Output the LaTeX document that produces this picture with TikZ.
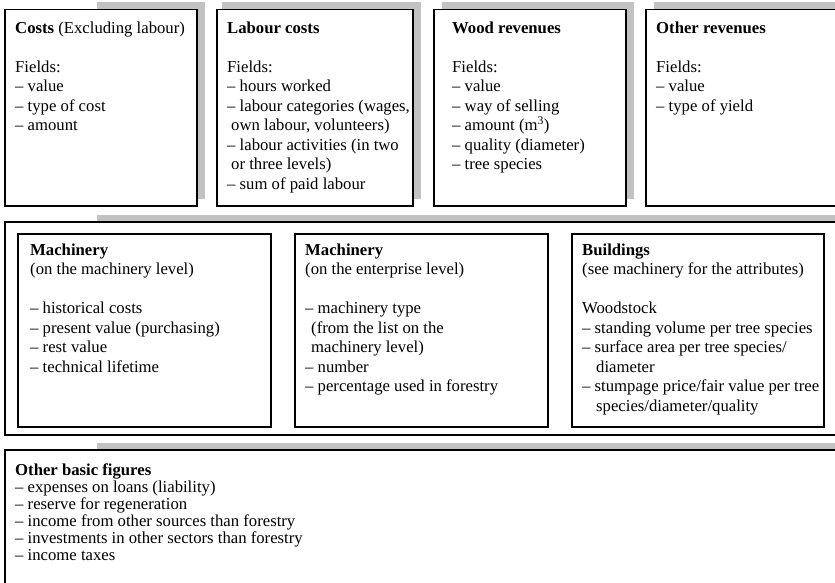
\documentclass[tikz,border=0pt]{standalone}
\usepackage{fontspec}
\setmainfont{Liberation Serif}
\begin{document}
\begin{tikzpicture}[x=1pt,y=-1pt,
  shadowfill/.style={fill=black!24},
  framebox/.style={draw=black, line width=1.1pt, fill=white},
  innerbox/.style={draw=black, line width=1.2pt, fill=white},
  % first line carries a \strut (height 0.7 of the baseline skip),
  % so the node top sits 13.65pt above the first baseline
  txt/.style={anchor=north west, inner sep=0pt, align=left,
              font=\fontsize{16.7}{19.5}\selectfont},
  txtsmall/.style={anchor=north west, inner sep=0pt, align=left,
              font=\fontsize{16.7}{17}\selectfont}]
\useasboundingbox (0,0) rectangle (835,582);
\clip (0,0) rectangle (835,582);

% ---- top row: four record boxes with offset shadows ----
\fill[shadowfill] (97,2) rectangle (205,199);
\fill[shadowfill] (222,2) rectangle (421,199);
\fill[shadowfill] (442,2) rectangle (634,199);
\fill[shadowfill] (654,2) rectangle (900,199);

\draw[framebox] (5,9.5) rectangle (197,206);
\draw[framebox] (217,9.5) rectangle (413,206);
\draw[framebox] (434,9.5) rectangle (626,206);
\draw[framebox] (646,9.5) rectangle (900,206);

\node[txt] (costs) at (15,19.35) {\strut\textbf{Costs} (Excluding labour)\\[19.5pt]
  Fields:\\
  -- value\\
  -- type of cost\\
  -- amount};

\node[txt] (labour) at (227,19.35) {\strut\textbf{Labour costs}\\[19.5pt]
  Fields:\\
  -- hours worked\\
  -- labour categories (wages,\\
  \hspace*{4pt}own labour, volunteers)\\
  -- labour activities (in two\\
  \hspace*{4pt}or three levels)\\
  -- sum of paid labour};

\node[txt] (wood) at (452,19.35) {\strut\textbf{Wood revenues}\\[19.5pt]
  Fields:\\
  -- value\\
  -- way of selling\\
  -- amount (m\textsuperscript{3})\\
  -- quality (diameter)\\
  -- tree species};

\node[txt] (otherrev) at (656,19.35) {\strut\textbf{Other revenues}\\[19.5pt]
  Fields:\\
  -- value\\
  -- type of yield};

% ---- middle band: fixed assets ----
\fill[shadowfill] (97,215) rectangle (900,428);
\draw[framebox] (5,222) rectangle (900,435);

\draw[innerbox] (18,234) rectangle (271,427);
\draw[innerbox] (295,234) rectangle (548,427);
\draw[innerbox] (572,234) rectangle (824,427);

\node[txt] (machA) at (30,241.35) {\strut\textbf{Machinery}\\
  (on the machinery level)\\[19.5pt]
  -- historical costs\\
  -- present value (purchasing)\\
  -- rest value\\
  -- technical lifetime};

\node[txt] (machB) at (305,241.35) {\strut\textbf{Machinery}\\
  (on the enterprise level)\\[19.5pt]
  -- machinery type\\
  \hspace*{6pt}(from the list on the\\
  \hspace*{6pt}machinery level)\\
  -- number\\
  -- percentage used in forestry};

\node[txt] (build) at (582,241.35) {\strut\textbf{Buildings}\\
  (see machinery for the attributes)\\[19.5pt]
  Woodstock\\
  -- standing volume per tree species\\
  -- surface area per tree species/\\
  \hspace*{14pt}diameter\\
  -- stumpage price/fair value per tree\\
  \hspace*{14pt}species/diameter/quality};

% ---- bottom band ----
\fill[shadowfill] (97,443) rectangle (900,600);
\draw[framebox] (5,450) rectangle (900,620);

\node[txtsmall] (basic) at (15,463.1) {\strut\textbf{Other basic figures}\\
  -- expenses on loans (liability)\\
  -- reserve for regeneration\\
  -- income from other sources than forestry\\
  -- investments in other sectors than forestry\\
  -- income taxes};
\end{tikzpicture}
\end{document}
